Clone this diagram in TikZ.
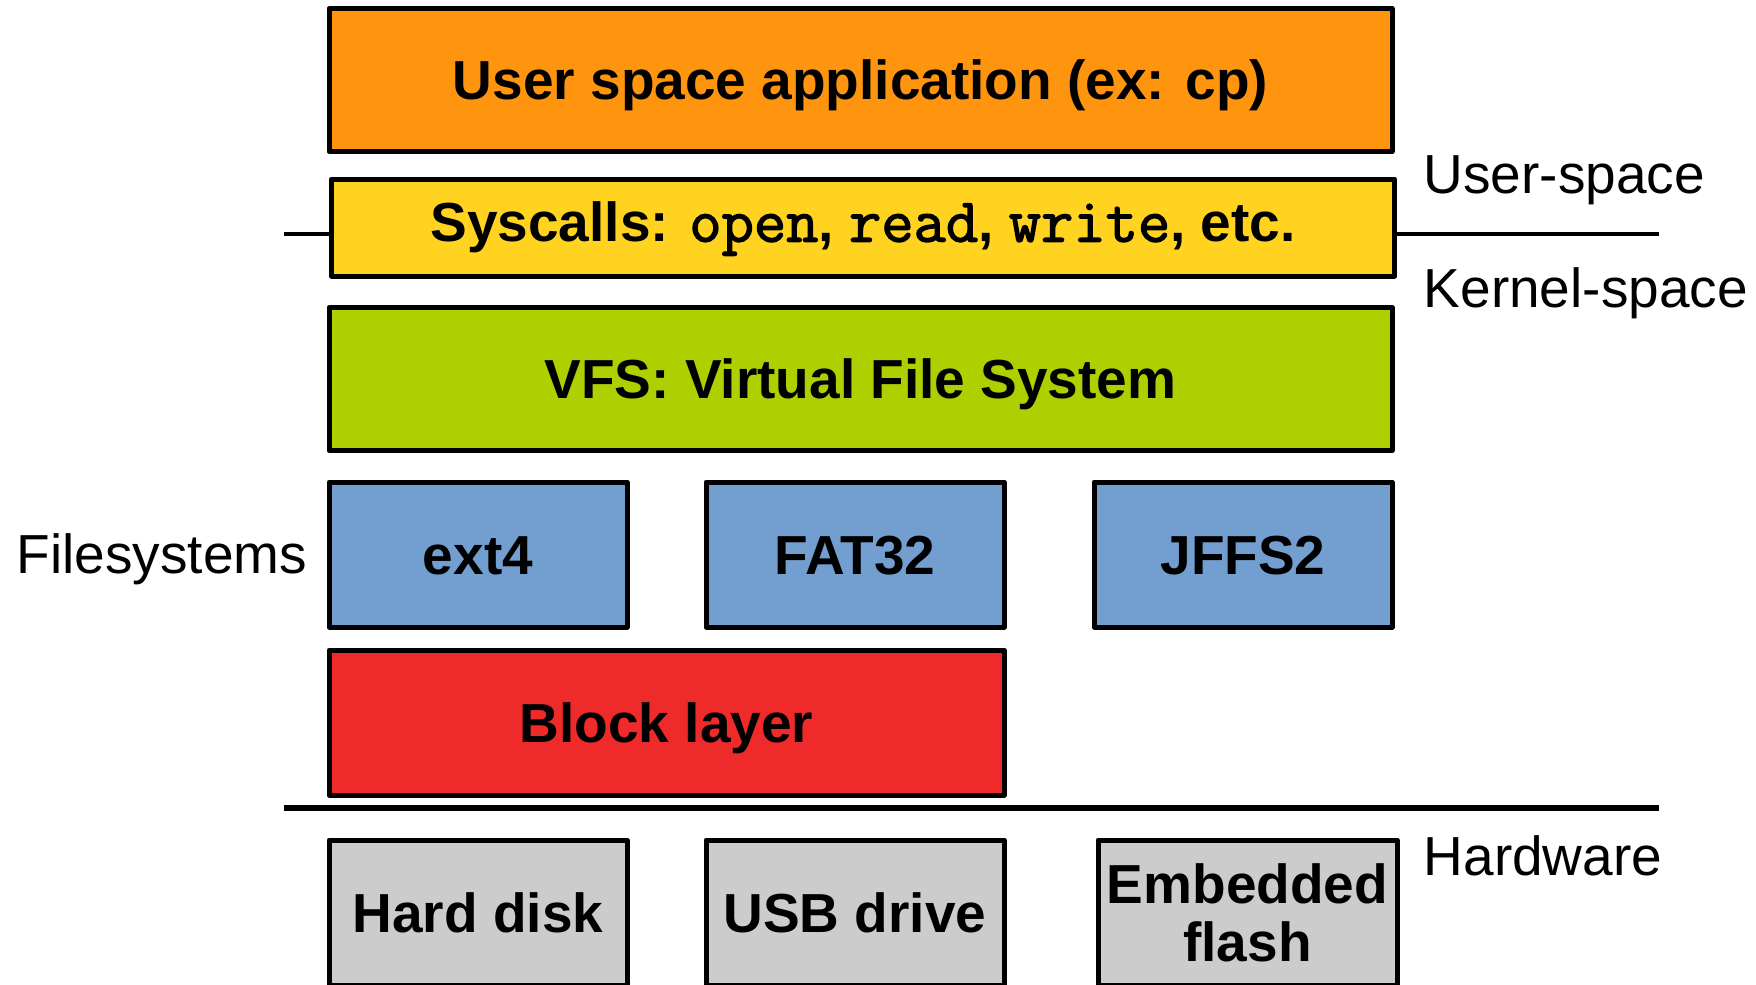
\documentclass[tikz,border=0pt]{standalone}
\usepackage{fontspec}
\setmainfont{Liberation Sans}
\setmonofont{Latin Modern Mono}[Scale=1.14,AutoFakeBold=2]

\definecolor{arancio}{HTML}{FF950E}
\definecolor{giallo}{HTML}{FFD320}
\definecolor{verde}{HTML}{AECF00}
\definecolor{azzurro}{HTML}{729FCF}
\definecolor{rosso}{HTML}{EE2A2A}
\definecolor{grigio}{HTML}{CCCCCC}

\tikzset{
  strato/.style={draw,line width=0.5mm,line join=round,inner sep=0pt,
    align=center,text height=3.94mm,text depth=0pt,
    font=\fontsize{15.65pt}{16.5pt}\selectfont\bfseries},
  largo/.style={strato,minimum width=106.3mm,minimum height=14.3mm},
  corto/.style={strato,minimum width=29.8mm,minimum height=14.5mm},
}

\begin{document}
\begin{tikzpicture}
  \clip (0,0) rectangle (175.6mm,-98.4mm);

  \node[largo,fill=arancio] (app) at (86.05mm,-8mm)
    {User space application (ex: cp)};
  \node[largo,fill=giallo,minimum height=9.7mm,text depth=1.1mm] (sys) at (86.3mm,-22.75mm)
    {Syscalls: \texttt{open}, \texttt{read}, \texttt{write}, etc.};
  \node[largo,fill=verde] (vfs) at (86.05mm,-37.9mm)
    {VFS: Virtual File System};

  \node[corto,fill=azzurro] (ext)  at (47.8mm,-55.45mm)  {ext4};
  \node[corto,fill=azzurro] (fat)  at (85.5mm,-55.45mm)  {FAT32};
  \node[corto,fill=azzurro] (jffs) at (124.3mm,-55.45mm) {JFFS2};

  \node[corto,fill=rosso,minimum width=67.5mm] (blocco) at (66.65mm,-72.25mm)
    {Block layer};

  \node[corto,fill=grigio] (disco) at (47.8mm,-91.25mm)  {Hard disk};
  \node[corto,fill=grigio] (usb)   at (85.5mm,-91.25mm)  {USB drive};
  \node[corto,fill=grigio,minimum width=29.9mm,text height=,text depth=]
    (flash) at (124.75mm,-91.25mm) {Embedded\\flash};

  \begin{scope}[font=\fontsize{15.65pt}{16.5pt}\selectfont,inner sep=0pt]
    \node[anchor=base west] (testo1) at (142.3mm,-19.3mm) {User-space};
    \node[anchor=base west] (testo2) at (142.3mm,-30.7mm) {Kernel-space};
    \node[anchor=base west] (testo3) at (1.6mm,-57.3mm)   {Filesystems};
    \node[anchor=base west] (testo4) at (142.3mm,-87.5mm) {Hardware};
  \end{scope}

  \coordinate (us1) at (28.4mm,-23.4mm);
  \coordinate (us2) at (165.9mm,-23.4mm);
  \coordinate (hw1) at (28.4mm,-80.8mm);
  \coordinate (hw2) at (165.9mm,-80.8mm);

  \draw[line width=0.45mm] (us1)--(us1 -| sys.west);
  \draw[line width=0.45mm] (sys.east |- us2)--(us2);
  \draw[line width=0.55mm] (hw1)--(hw2);
\end{tikzpicture}
\end{document}
